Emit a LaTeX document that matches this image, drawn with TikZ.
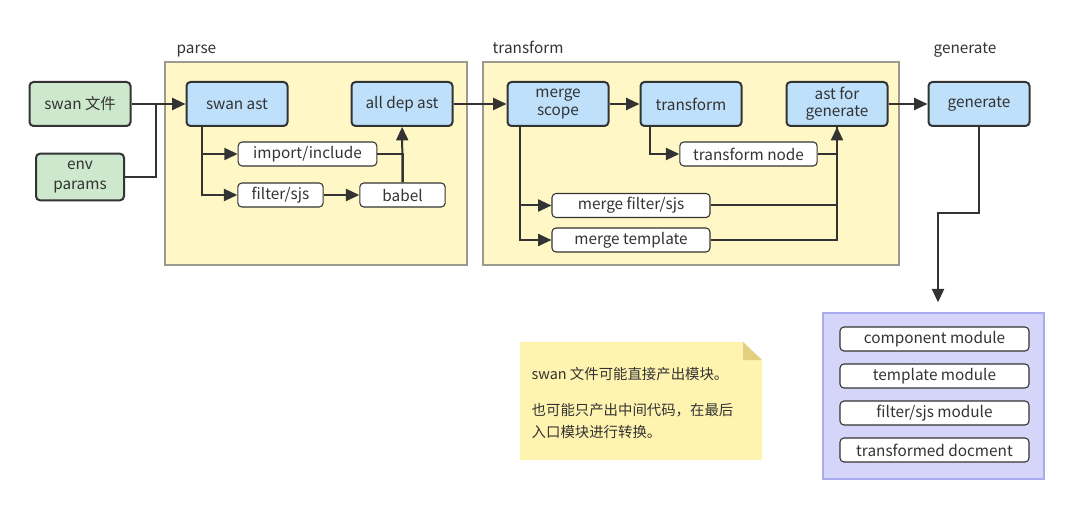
\documentclass[tikz,border=0pt]{standalone}
\usepackage{fontspec}
\setmainfont{Noto Sans CJK SC}
\usepackage{tikz}
\usetikzlibrary{arrows.meta,calc}
\definecolor{inkgray}{HTML}{333333}
\definecolor{srcgreen}{HTML}{CDE8CC}
\definecolor{astblue}{HTML}{BEE0FA}
\definecolor{stageyellow}{HTML}{FFF8C6}
\definecolor{stageedge}{HTML}{9A9A8E}
\definecolor{outlilac}{HTML}{D4D5F8}
\definecolor{outedge}{HTML}{A9ABEE}
\definecolor{noteyellow}{HTML}{FFF3B0}
\definecolor{notefold}{HTML}{E2CF80}

\begin{document}
\begin{tikzpicture}[x=0.75pt,y=-0.75pt,>={Triangle[length=10pt,width=9pt]},
    every node/.style={font=\fontsize{11.5}{13}\selectfont,text=inkgray},
    link/.style={draw=inkgray,line width=1.5pt},
    stage/.style={draw=stageedge,fill=stageyellow,line width=0.8pt,minimum width=#1,minimum height=152.25pt,inner sep=0pt},
    srcbox/.style={draw=inkgray,fill=srcgreen,line width=1.5pt,rounded corners=3pt,minimum height=33pt,align=center},
    astbox/.style={draw=inkgray,fill=astblue,line width=1.5pt,rounded corners=3pt,minimum width=75.75pt,minimum height=33pt,align=center},
    stepbox/.style={draw=inkgray,fill=white,line width=0.8pt,rounded corners=3pt,minimum width=#1,minimum height=18pt,inner sep=1pt}]
    \useasboundingbox (0,0) rectangle (1080,509);

    % Stages
    \node[stage=226.5pt] (parse) at (316,163.5) {};
    \node[stage=312pt] (trans) at (691,163.5) {};
    \node[anchor=base west] (parselbl) at (172,54) {parse};
    \node[anchor=base west] (translbl) at (488,54) {transform};
    \node[anchor=base] (genlbl) at (965,54) {generate};

    % Inputs
    \node[srcbox,minimum width=75.75pt] (swan) at (80,104) {swan 文件};
    \node[srcbox,minimum width=66pt,minimum height=35pt,inner sep=1pt] (env) at (80,177) {env\\[2pt]params};
    \coordinate (join) at (156,104);

    % Parse
    \node[astbox] (sa) at (237,104) {swan ast};
    \node[astbox] (dep) at (402,104) {all dep ast};
    \node[stepbox=104pt] (imp) at (307.5,154) {import/include};
    \node[stepbox=64pt] (fil) at (280.5,195) {filter/sjs};
    \node[stepbox=64pt] (bab) at (402.5,195) {babel};

    % Transform
    \node[astbox] (ms) at (558,104) {merge\\scope};
    \node[astbox] (tf) at (691,104) {transform};
    \node[astbox] (ag) at (837,104) {ast for\\generate};
    \node[stepbox=103pt] (tn) at (748.5,154) {transform node};
    \node[stepbox=118.5pt] (mf) at (631,205.5) {merge filter/sjs};
    \node[stepbox=118.5pt] (mt) at (631,240) {merge template};

    % Generate
    \node[astbox] (gen) at (979,104) {generate};
    \coordinate (bend) at (938,213);

    % Output modules
    \node[draw=outedge,fill=outlilac,line width=1pt,minimum width=165.75pt,minimum height=124.5pt] (out) at (933.5,396) {};
    \foreach \y/\nm/\txt in {339/m1/{component module},376/m2/{template module},413/m3/{filter/sjs module},450/m4/{transformed docment}}
        \node[stepbox=141.75pt] (\nm) at (934.5,\y) {\txt};

    % Connectors
    \draw[link,->] (swan) -- (sa);
    \draw[link] (env.east) -| (join);
    \draw[link,->] ([xshift=12pt]sa.south west) |- (imp.west);
    \draw[link,->] ([xshift=12pt]sa.south west) |- (fil.west);
    \draw[link,->] (fil) -- (bab);
    \draw[link] (imp.east) -| (bab.north);
    \draw[link,->] (bab) -- (dep);
    \draw[link,->] (dep) -- (ms);
    \draw[link,->] (ms) -- (tf);
    \draw[link,->] ([xshift=9.75pt]ms.south west) |- (mf.west);
    \draw[link,->] ([xshift=9.75pt]ms.south west) |- (mt.west);
    \draw[link,->] ([xshift=7.5pt]tf.south west) |- (tn.west);
    \draw[link] (tn.east) -| (ag.south);
    \draw[link] (mf.east) -| (ag.south);
    \draw[link,->] (mt.east) -| (ag.south);
    \draw[link,->] (ag) -- (gen);
    \draw[link,->,shorten >=7.5pt] (gen.south) |- (bend) -- (bend |- out.north);

    % Note
    \fill[noteyellow] (520,342) -- (743,342) -- (762,360) -- (762,460) -- (520,460) -- cycle;
    \fill[notefold] (743,342) -- (762,360) -- (743,360) -- cycle;
    \node[anchor=north west,align=left,font=\fontsize{10.8}{16.5}\selectfont] (note) at (527,363)
        {swan 文件可能直接产出模块。\\[10.5pt]也可能只产出中间代码，在最后\\入口模块进行转换。};
\end{tikzpicture}
\end{document}
